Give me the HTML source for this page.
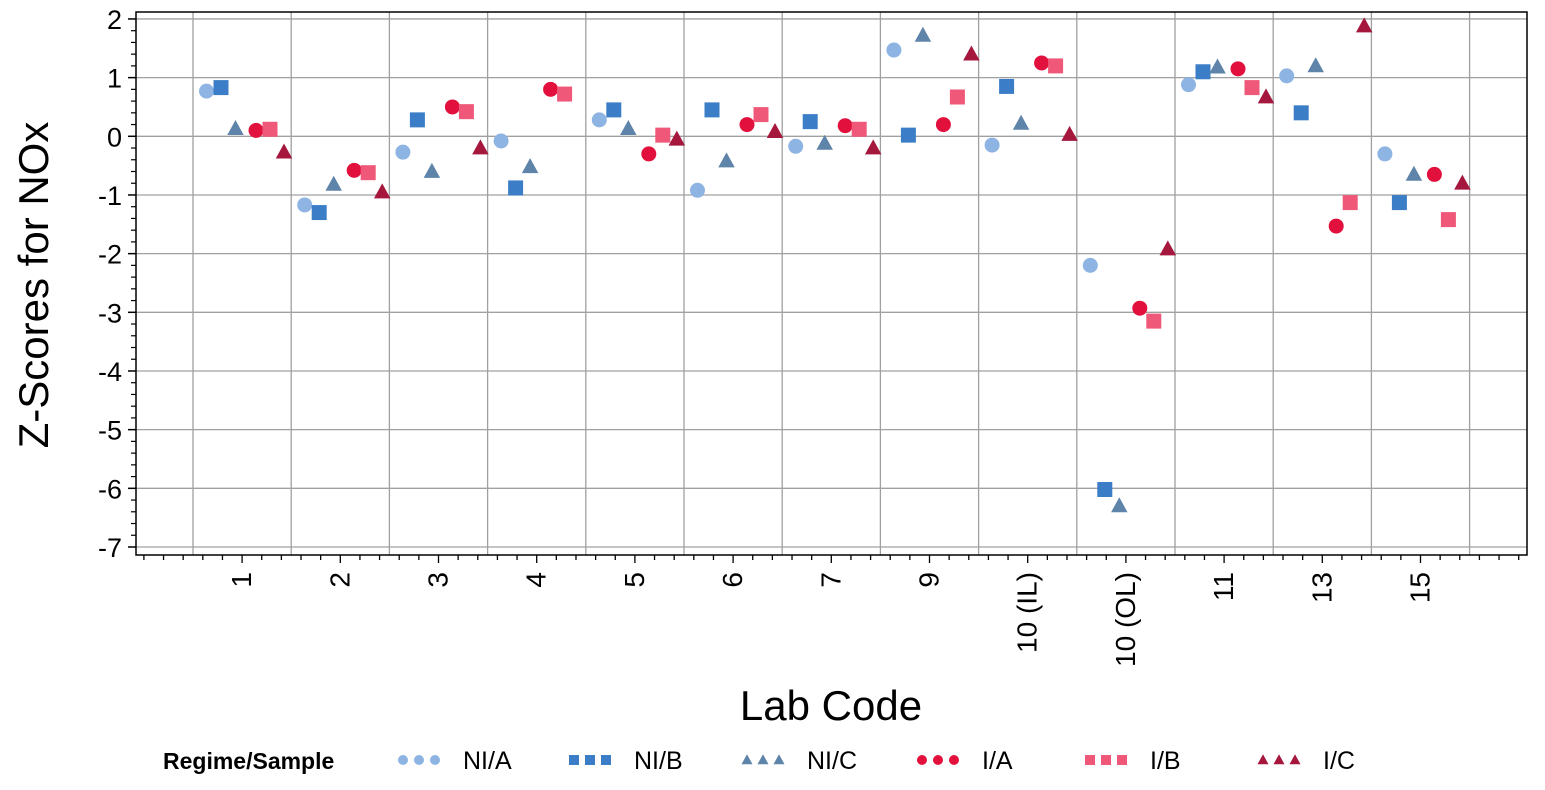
<!DOCTYPE html>
<html><head><meta charset="utf-8"><style>
body{margin:0;background:#fff;}
svg text{font-family:"Liberation Sans",Arial,sans-serif;}
</style></head><body>
<svg id="chart" width="1545" height="785" xmlns="http://www.w3.org/2000/svg">
<g id="grid"></g>
<g id="axes"></g>
<g id="marks"></g>
<text transform="translate(48,285) rotate(-90)" text-anchor="middle" font-size="42" fill="#000">Z-Scores for NOx</text>
<text x="831" y="720" text-anchor="middle" font-size="42" fill="#000">Lab Code</text>
<g id="legend"></g>
</svg>
<script>
const categories = ["1","2","3","4","5","6","7","9","10 (IL)","10 (OL)","11","13","15"];
const seriesNames = ["NI/A","NI/B","NI/C","I/A","I/B","I/C"];
const niA = [0.77,-1.17,-0.27,-0.08,0.28,-0.92,-0.17,1.47,-0.15,-2.2,0.88,1.03,-0.3];
const niB = [0.83,-1.3,0.28,-0.88,0.45,0.45,0.25,0.02,0.85,-6.02,1.1,0.4,-1.13];
const niC = [0.13,-0.82,-0.6,-0.52,0.13,-0.42,-0.12,1.72,0.22,-6.3,1.18,1.2,-0.65];
const iA = [0.1,-0.58,0.5,0.8,-0.3,0.2,0.18,0.2,1.25,-2.93,1.15,-1.53,-0.65];
const iB = [0.12,-0.62,0.42,0.72,0.02,0.37,0.12,0.67,1.2,-3.15,0.83,-1.13,-1.42];
const iC = [-0.27,-0.95,-0.2,null,-0.05,0.08,-0.2,1.4,0.03,-1.92,0.67,1.88,-0.8];
const yTicks = [2,1,0,-1,-2,-3,-4,-5,-6,-7];

const NS="http://www.w3.org/2000/svg";
const L=136,R=1527,T=12,B=555,band=98.2,first=193;
const y=v=>136.3-v*58.67;
const xc=i=>first+band*i+band/2;
const slot=[13.5,28,42.5,63,77,91];
const xs=(i,s)=>first+band*i+slot[s];
function mk(tag,at,p){const e=document.createElementNS(NS,tag);for(const k in at)e.setAttribute(k,at[k]);p.appendChild(e);return e;}
const grid=document.getElementById('grid'),axes=document.getElementById('axes'),marks=document.getElementById('marks'),legend=document.getElementById('legend');
mk('rect',{x:L,y:T,width:R-L,height:B-T,fill:'#fff',stroke:'none'},grid);
yTicks.forEach(v=>{
  const l=mk('line',{x1:L,x2:R,y1:y(v),y2:y(v),stroke:'#a0a0a0','stroke-width':1.3},grid);
  
  
  mk('line',{x1:L-8,x2:L,y1:y(v),y2:y(v),stroke:'#000','stroke-width':1.5},axes);
  const tx=mk('text',{x:L-14,y:y(v)+10,'text-anchor':'end','font-size':27,fill:'#000'},axes);
  tx.textContent=v;
  
  
});
for(let v=2;v>-7;v-=1){for(let k=1;k<5;k++){const yy=y(v-k*0.2);mk('line',{x1:L-5,x2:L,y1:yy,y2:yy,stroke:'#000','stroke-width':1.2},axes);}}
for(let i=0;i<=categories.length;i++){
  const gx=first+band*i;
  const l=mk('line',{x1:gx,x2:gx,y1:T,y2:B,stroke:'#a0a0a0','stroke-width':1.3},grid);
  
  
}
for(let k=-20;k<=80;k++){const tx=xc(0)+k*band/5;if(tx<L+3||tx>R-2)continue;const maj=k%5===0&&k/5<categories.length&&k>=0;mk('line',{x1:tx,x2:tx,y1:B,y2:B+(maj?8:5),stroke:'#000','stroke-width':1.3},axes);}
categories.forEach((c,i)=>{
  const t=mk('text',{transform:`translate(${xc(i)+9},572) rotate(-90)`,'text-anchor':'end','font-size':28,fill:'#000'},axes);
  t.textContent=c;
  
  
});
mk('rect',{x:L,y:T,width:R-L,height:B-T,fill:'none',stroke:'#000','stroke-width':1.5},axes);

const colors=['#8db4e2','#3b7dc6','#5f84aa','#e2103c','#ef5878','#a5173d'];
const shapes=['circle','square','triangle','circle','square','triangle'];
const all=[niA,niB,niC,iA,iB,iC];
function shape(s,cx,cy,r,col,p){
  if(s==='circle')return mk('circle',{cx,cy,r,fill:col},p);
  if(s==='square')return mk('rect',{x:cx-r,y:cy-r,width:2*r,height:2*r,fill:col},p);
  return mk('polygon',{points:`${cx},${cy-r*1.15} ${cx-r*1.1},${cy+r*0.85} ${cx+r*1.1},${cy+r*0.85}`,fill:col},p);
}
all.forEach((arr,s)=>arr.forEach((v,i)=>{
  if(v===null)return;
  const m=shape(shapes[s],xs(i,s),y(v),7.5,colors[s],marks);
  
  
}));
const lt=mk('text',{x:163,y:769,'font-size':23,'font-weight':'bold',fill:'#000'},legend);
lt.textContent='Regime/Sample';


const lx=[403,574,747,922,1090,1263];
seriesNames.forEach((n,s)=>{
  const g=mk('g',{},legend);
  
  
  for(let k=0;k<3;k++)shape(shapes[s],lx[s]+k*16,760,5,colors[s],g);
  const t=mk('text',{x:lx[s]+60,y:769,'font-size':25,fill:'#000'},g);
  t.textContent=n;
});
</script>
</body></html>
